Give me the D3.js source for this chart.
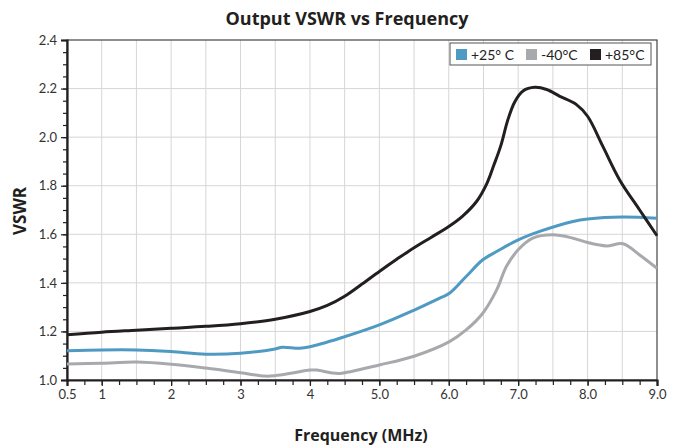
<!DOCTYPE html>
<html>
<head>
<meta charset="utf-8">
<script src="https://cdn.jsdelivr.net/npm/d3@7"></script>
<style>
  body { margin: 0; background: #fff; }
  svg text { font-family: Lato, "Open Sans", sans-serif; }
  svg text.title { font-family: "Open Sans", Lato, sans-serif; font-weight: bold; }
</style>
</head>
<body>
<div id="chart"></div>
<script>
// frequency (MHz) / VSWR
const freq25 = [0.5, 1, 1.5, 2, 2.5, 3, 3.5, 3.6, 3.85, 4, 4.43, 5.0, 5.51, 5.87, 6.01, 6.25, 6.49, 6.69, 7.0, 7.31, 7.79, 8.0, 8.5, 9.0];
const vswr25 = [1.12, 1.124, 1.124, 1.117, 1.106, 1.11, 1.128, 1.135, 1.131, 1.137, 1.172, 1.227, 1.289, 1.337, 1.357, 1.426, 1.495, 1.529, 1.577, 1.612, 1.653, 1.663, 1.671, 1.666];

const freqM40 = [0.5, 1, 1.5, 2, 2.5, 3, 3.35, 3.5, 3.75, 4, 4.1, 4.3, 4.43, 5.0, 5.51, 6.01, 6.25, 6.49, 6.69, 6.83, 7.0, 7.21, 7.5, 7.79, 8.0, 8.27, 8.51, 8.75, 9.0];
const vswrM40 = [1.066, 1.069, 1.074, 1.065, 1.049, 1.03, 1.016, 1.018, 1.029, 1.041, 1.041, 1.03, 1.027, 1.062, 1.099, 1.158, 1.206, 1.275, 1.371, 1.467, 1.536, 1.584, 1.598, 1.584, 1.566, 1.552, 1.561, 1.515, 1.46];

const freq85 = [0.5, 1, 1.5, 2, 2.5, 3, 3.5, 4, 4.25, 4.5, 4.75, 5.0, 5.25, 5.5, 5.75, 6.0, 6.2, 6.4, 6.55, 6.65, 6.75, 6.85, 6.95, 7.07, 7.24, 7.41, 7.6, 7.84, 8.0, 8.22, 8.46, 8.75, 9.0];
const vswr85 = [1.186, 1.197, 1.205, 1.213, 1.221, 1.232, 1.25, 1.282, 1.307, 1.345, 1.395, 1.447, 1.497, 1.545, 1.588, 1.632, 1.675, 1.735, 1.81, 1.885, 1.965, 2.07, 2.145, 2.19, 2.205, 2.196, 2.168, 2.134, 2.086, 1.962, 1.825, 1.70, 1.594];

const seriesNames = ["+25° C", "-40°C", "+85°C"];
const seriesColors = ["#4f9ac2", "#a8a9ac", "#231f20"];

const xTickVals = [0.5, 1, 2, 3, 4, 5, 6, 7, 8, 9];
const xTickLabels = ["0.5", "1", "2", "3", "4", "5.0", "6.0", "7.0", "8.0", "9.0"];
const yTickVals = [1.0, 1.2, 1.4, 1.6, 1.8, 2.0, 2.2, 2.4];

let margin = {top: 40, right: 28, bottom: 66, left: 67},
    width = 685 - margin.left - margin.right,
    height = 446 - margin.top - margin.bottom;

let root = d3.select("#chart")
    .append("svg")
        .attr("width", 685)
        .attr("height", 446);

let svg = root.append("g")
    .attr("transform", "translate(" + margin.left + "," + margin.top + ")");

let x = d3.scaleLinear().domain([0.5, 9]).range([0, width]);
let y = d3.scaleLinear().domain([1.0, 2.4]).range([height, 0]);

// grid every 0.5 MHz and 0.2 VSWR
svg.append("g")
    .selectAll("line")
    .data(d3.range(1, 9, 0.5))
    .join("line")
        .attr("x1", d => x(d)).attr("x2", d => x(d))
        .attr("y1", 0).attr("y2", height)
        .attr("stroke", "#d6d6d6").attr("stroke-width", 1);

svg.append("g")
    .selectAll("line")
    .data(yTickVals.slice(1, -1))
    .join("line")
        .attr("x1", 0).attr("x2", width)
        .attr("y1", d => y(d)).attr("y2", d => y(d))
        .attr("stroke", "#d6d6d6").attr("stroke-width", 1);

// frame
svg.append("rect")
    .attr("width", width).attr("height", height)
    .attr("fill", "none").attr("stroke", "#444").attr("stroke-width", 1.2);

// minor ticks
svg.append("g")
    .attr("transform", "translate(0," + height + ")")
    .call(d3.axisBottom(x).tickValues(d3.range(0.5, 9.01, 0.25)).tickSize(5).tickFormat(""))
    .call(g => g.select(".domain").remove())
    .selectAll("line").attr("stroke", "#231f20").attr("stroke-width", 1.2);

svg.append("g")
    .call(d3.axisLeft(y).tickValues(d3.range(1.0, 2.401, 0.05)).tickSize(4).tickFormat(""))
    .call(g => g.select(".domain").remove())
    .selectAll("line").attr("stroke", "#231f20").attr("stroke-width", 1.2);

// major axes
let xAxis = svg.append("g")
    .attr("transform", "translate(0," + height + ")")
    .call(d3.axisBottom(x).tickValues(xTickVals).tickSize(6).tickPadding(4)
        .tickFormat((d, i) => xTickLabels[i]));
xAxis.select(".domain").attr("stroke", "#231f20").attr("stroke-width", 2.2);
xAxis.selectAll("line").attr("stroke", "#231f20").attr("stroke-width", 1.2);
xAxis.selectAll("text").style("font-size", "13px").attr("fill", "#333");

let yAxis = svg.append("g")
    .call(d3.axisLeft(y).tickValues(yTickVals).tickSize(6).tickPadding(4).tickFormat(d3.format(".1f")));
yAxis.select(".domain").attr("stroke", "#231f20").attr("stroke-width", 2.2);
yAxis.selectAll("line").attr("stroke", "#231f20").attr("stroke-width", 1.2);
yAxis.selectAll("text").style("font-size", "13px").attr("fill", "#333");

// curves
let allSeries = [
    freq25.map((f, i) => [f, vswr25[i]]),
    freqM40.map((f, i) => [f, vswrM40[i]]),
    freq85.map((f, i) => [f, vswr85[i]])
];

let line = d3.line()
    .x(d => x(d[0]))
    .y(d => y(d[1]))
    .curve(d3.curveCatmullRom.alpha(0.5));

svg.append("g")
    .selectAll("path")
    .data(allSeries)
    .join("path")
        .attr("d", line)
        .attr("fill", "none")
        .attr("stroke", (d, i) => seriesColors[i])
        .attr("stroke-width", 3)
        .attr("stroke-linejoin", "round");

// legend
let legend = svg.append("g").attr("transform", "translate(383,3)");
legend.append("rect")
    .attr("width", 201).attr("height", 22)
    .attr("fill", "#fff").attr("stroke", "#555").attr("stroke-width", 1);
let legendX = [6, 76, 140];
seriesNames.forEach((name, i) => {
    legend.append("rect")
        .attr("x", legendX[i]).attr("y", 6)
        .attr("width", 11).attr("height", 11)
        .attr("fill", seriesColors[i]);
    legend.append("text")
        .attr("x", legendX[i] + 15).attr("y", 16.5)
        .style("font-size", "14px")
        .attr("fill", "#222")
        .text(name);
});

// titles
root.append("text")
    .attr("class", "title")
    .attr("x", 347).attr("y", 25)
    .attr("text-anchor", "middle")
    .style("font-size", "18px")
    .attr("fill", "#231f20")
    .text("Output VSWR vs Frequency");

root.append("text")
    .attr("class", "title")
    .attr("transform", "translate(26,211)rotate(-90)")
    .attr("text-anchor", "middle")
    .style("font-size", "17px")
    .attr("fill", "#231f20")
    .text("VSWR");

root.append("text")
    .attr("class", "title")
    .attr("x", 361).attr("y", 441)
    .attr("text-anchor", "middle")
    .style("font-size", "16px")
    .attr("fill", "#231f20")
    .text("Frequency (MHz)");
</script>
</body>
</html>
